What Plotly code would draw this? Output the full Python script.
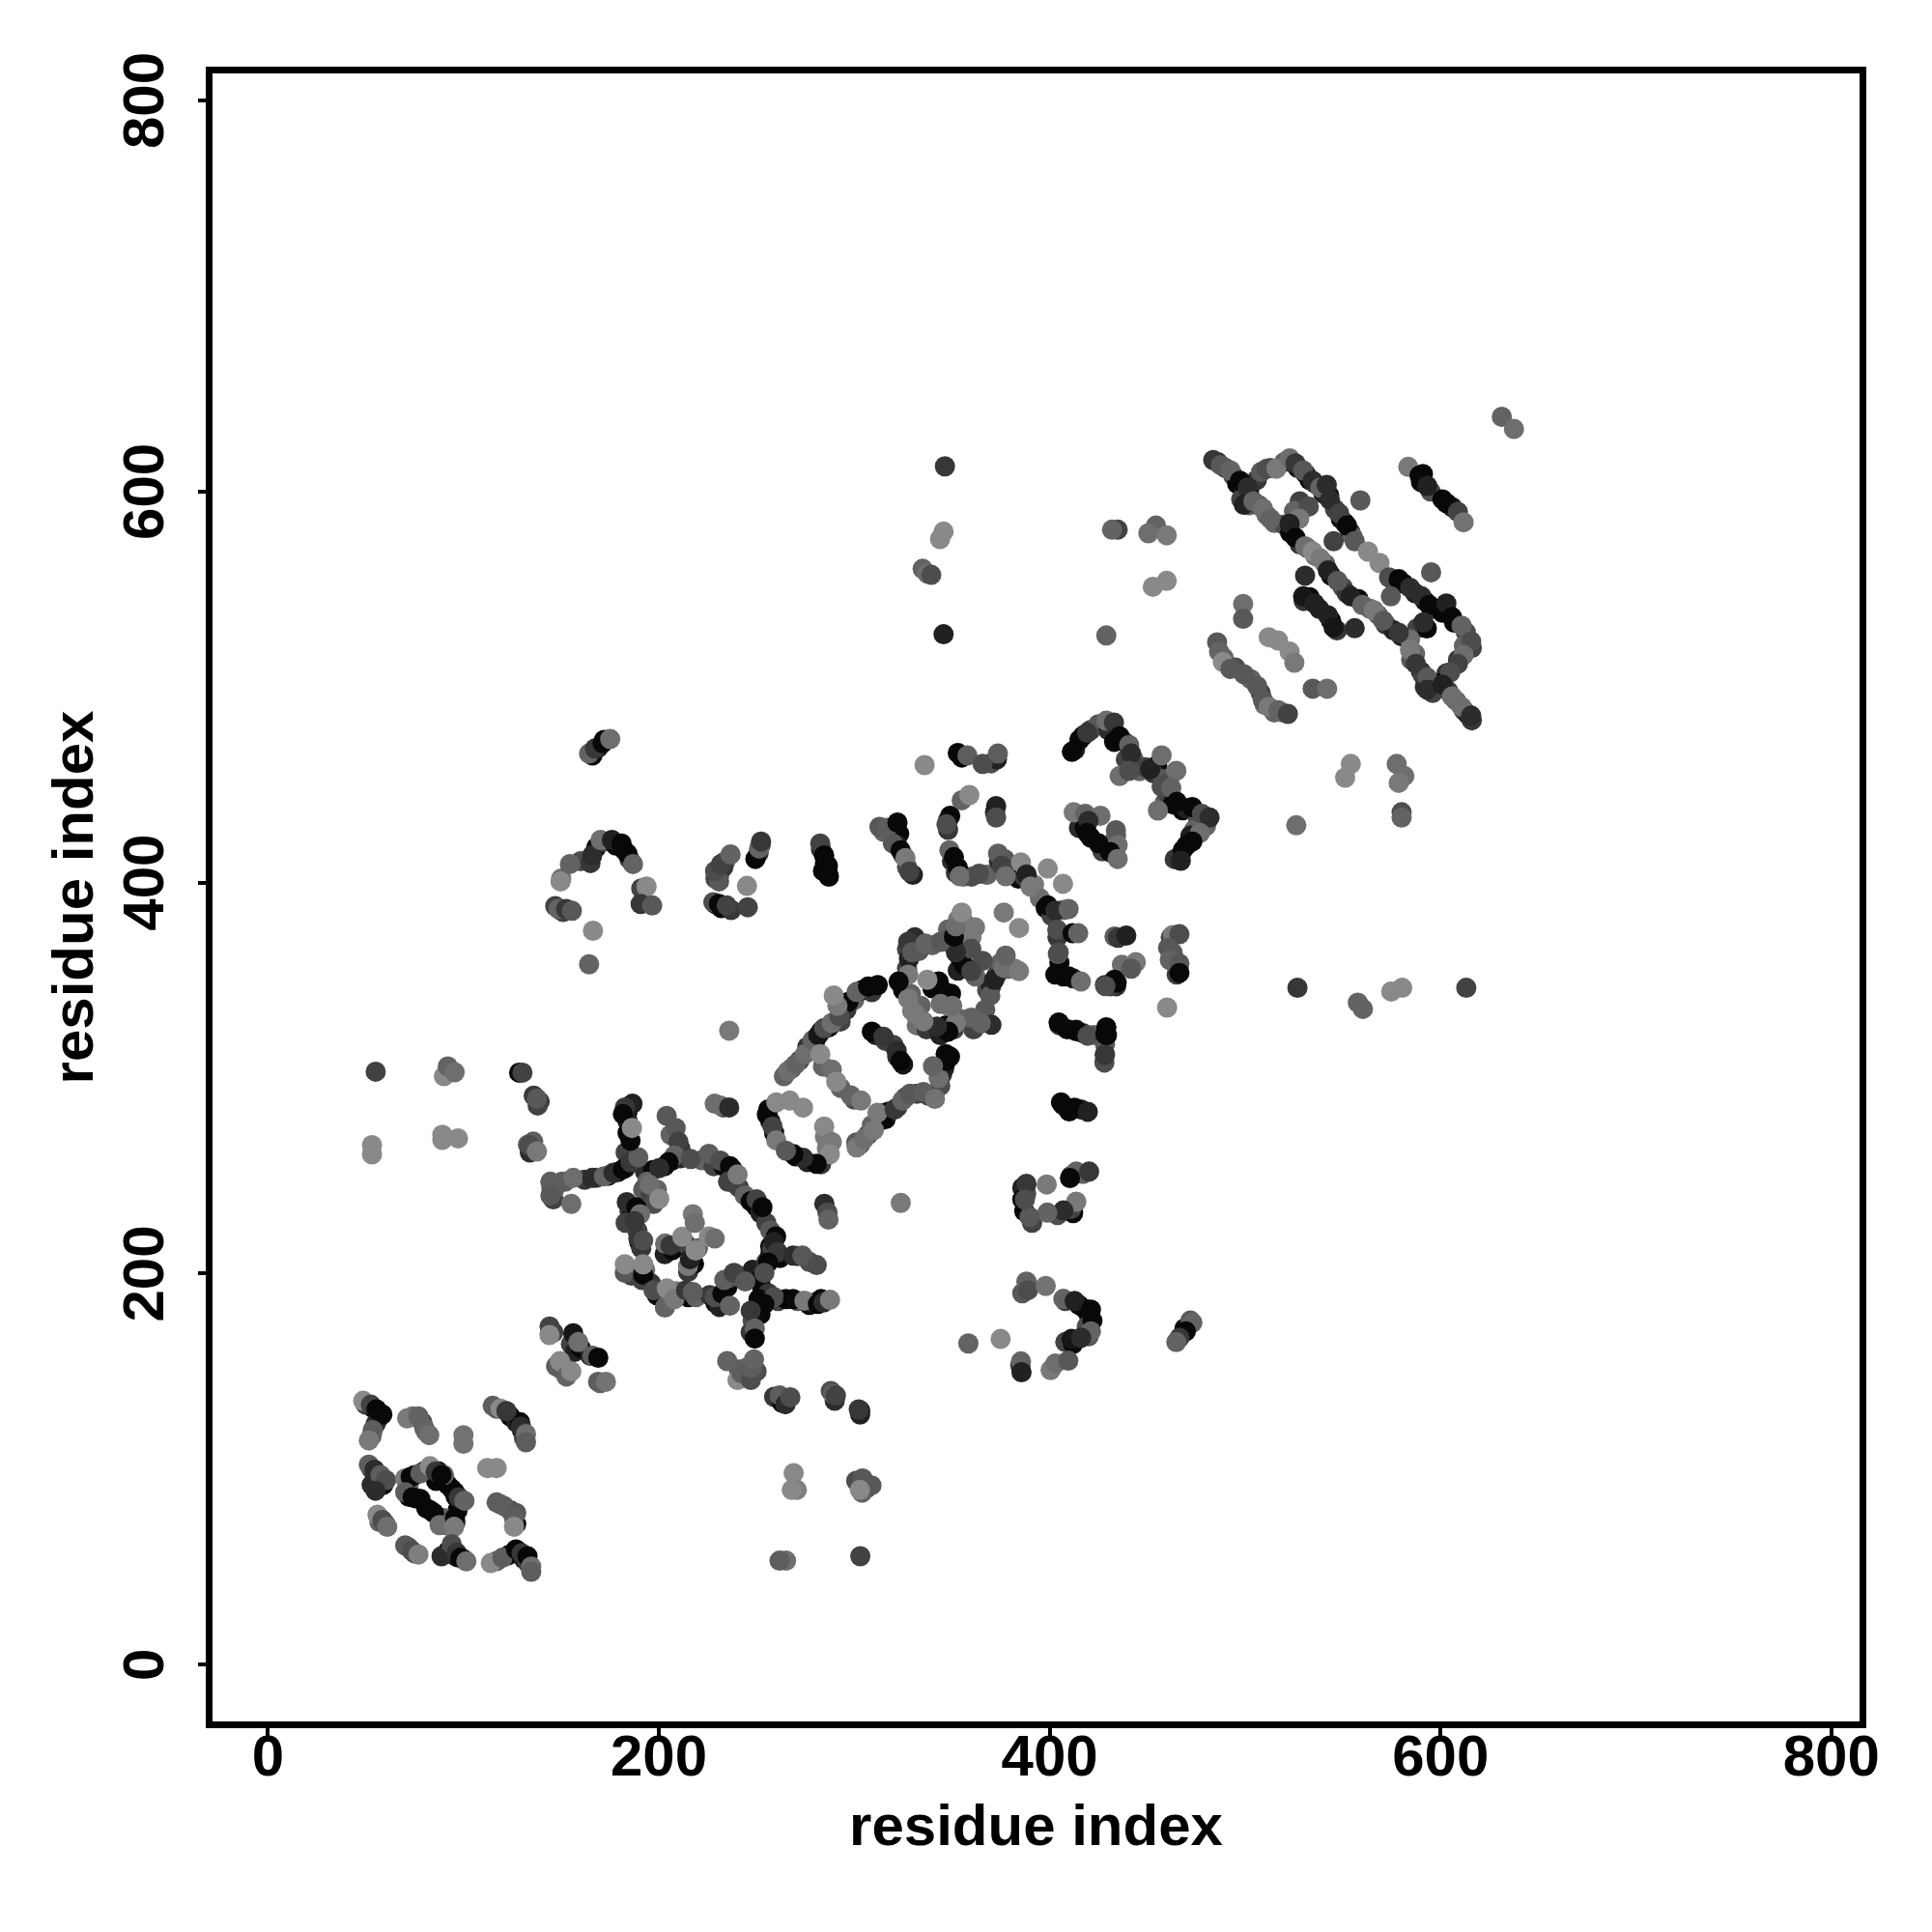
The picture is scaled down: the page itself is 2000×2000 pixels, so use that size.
import plotly.graph_objects as go

# Contact map: residue index pairs and grey shade per contact
i_low = [48.7,52.6,55.5,58.5,53.6,51.6,71.2,77,80,82.5,100,100,115,119,122,129.4,132,132,112.2,117,51.6,54.5,57.5,60.4,55,70.2,73,78,82.9,85.8,88.8,70.2,74,78,84.9,87.8,95.6,97.6,100.5,95.6,95.2,117,121,127,125.9,125.9,56,58.5,61,70.2,73.7,77,88.8,94,96.6,98.5,101.5,114,120,126.9,129.8,132.8,134.7,134.7,269,270.6,268,304.2,308.8,302.9,265.1,261.8,303.1,55.1,90,92,95.5,128.5,130.2,137.6,53.2,53.2,89.2,89.2,97.2,135.7,133.7,137.6]
j_low = [135,133,130.6,128,120,114.7,126,127,121,117.4,117.4,113,132.4,131,129.7,121.8,118,113.8,100.6,100.6,102.3,99.7,97,94.4,89,95.3,96,97.9,101.5,98.8,97,88.2,85.6,84.7,77.6,71.4,88.2,85.6,83.8,75,70.5,83,81,77.6,75,70.5,76.7,74,70.5,61,58.2,56.4,55.5,61.7,57.3,54.7,52.9,52,54.7,59,57,55.5,50.2,47.6,98,89.4,89.4,95.3,91.7,89.4,53.2,53.2,55.5,303.3,301,306,303,302.8,302.8,289.6,265.7,261,271,268.4,269.2,267.5,265.7,262.5]
g_low = [125,60,8,8,85,110,110,90,90,100,105,105,85,125,50,40,100,85,125,125,85,40,85,70,40,110,8,85,125,50,8,85,8,8,8,100,8,50,90,8,110,85,85,80,85,125,125,70,100,80,70,115,40,70,50,8,100,125,85,8,50,8,100,85,125,115,125,80,80,125,100,85,60,60,125,90,100,8,60,80,125,125,125,125,125,85,70,110]

i_ring = [144.5,150.4,146.4,144.5,156.2,155.2,166,171.9,176.8,181.6,185.5,189.5,186.5,182.6,181.6,185.5,186.2,204,208.6,210,208,205,200.2,216.3,225.6,231.5,236.4,235.4,240.3,228.6,231.5,236,195.3,197.3,200.2,183.6,188.5,190.4,187.5,189.5,192,203.2,206,212,217.4,218.4,225.6,228.6,214.9,215.9,218.8,182.6,182.6,191.4,192,192,197.3,203.1,204.1,208,213.9,217.4,228.6,232.5,236.4,233.5,238.4,244.2,258.9,260.8,255.9,254,268.7,273.5,280.8,258.9,254,252,247,249.1,249.1,268.7,274.5,281.4,284.3,287.6,284.7,286.3,286.8,323.8,144.1,144,156.2,158.8,166,169,147.4,149.4,152.7,155.2,168.9,172.9,235,240.3,242.3,247.1,247.1,248.7,261.8,264.8,267.3,289.2,290.6,302.3]
j_ring = [247,247,242.8,240,249,235.7,249,249.8,251.6,253.4,256.9,259.5,286.9,285,281.6,268,274.5,280.7,274.5,267.5,260.4,257,254,258.6,261.3,257.8,255,247,250.7,286.9,286,285,245.4,235.7,238.3,236.6,233.9,230.4,226.9,218,217,215.4,214.5,218.9,230.4,226,219,218,203.9,207.4,211.8,200.4,204.8,196.8,199.5,204.8,191.5,182.7,192.4,187,191.5,190.6,188,189.8,183.6,196.8,200.4,196,216.3,211,205.7,200.4,209.2,209.2,204.4,188,184.5,179.2,181,172,166.8,187,186.2,184.5,185.3,186.6,235.7,231.3,227.7,236.2,173,168.6,169.5,165,158,157,152.7,155.3,147.4,150,144.7,144.7,155.3,145.6,149.1,145.6,151.8,156.2,137.7,133.2,136.8,138.5,137.7,130.6]
g_ring = [85,85,85,80,100,100,40,90,40,8,50,85,30,50,8,8,125,80,80,60,90,8,40,70,85,70,8,60,110,100,100,40,100,70,125,40,8,100,50,50,70,100,50,125,110,100,125,100,110,30,125,80,125,60,8,125,70,90,125,110,50,85,70,8,90,85,60,80,30,50,8,70,40,80,70,70,8,8,50,90,8,8,110,8,40,110,40,70,90,110,60,125,20,100,85,8,85,125,90,125,85,105,90,125,85,70,85,90,85,40,70,85,60,50]

i_mid = [149.7,154.5,148.7,152.6,155.5,164.3,167.3,171.2,175.1,165.9,170.2,176,180.9,183.9,186.8,193.7,190.7,196.6,166.3,164.3,227.9,230.8,234.7,245.5,245.1,230.8,228.8,231.8,236.7,249.4,251.3,252.3,282.6,284.6,286.5,286.5,312.9,316.8,322.1,319.8,323.7,326.2,328.2,353,357.9,365.7,373.5,336,349.1,347.2,355,358.9,372.6,372.6,348.7,351,353,354,363.8,373.6,375.5,377.5,385.3,388.2,390.2,399,406.8,399,402.9,409.7,403.9,411.7,414.6,376.5,384.3,404.2,402.9,409.7,416,433.2,428.3,433.2,404.8,413.6,419.5,428.3,428.3,429.3,405.8,412.7,419.5,236]
j_mid = [400.6,409.5,386.5,386.5,385.6,466,468.6,471.3,473.4,413.9,421.8,421.8,420,414.8,409.5,398,389.1,388.3,375.4,358.2,390,389.1,388.3,387.4,398.3,400.6,405.9,409.5,414.4,412.1,417.4,421,420,413.9,408.6,405,428.5,428,430.7,420,416.5,412.6,405.6,466.3,465,460.7,466,460.1,434.2,429.8,442.1,444.8,439.1,433.3,416.5,413,407.7,403.3,404.5,414.8,408.6,403.3,410.3,404.2,398,407.2,399.4,388.3,385.6,386.5,375.9,374.1,374.1,384.7,376.8,363.5,353,352,349.4,372.4,347.6,350.3,328.2,324.7,322,317.6,312.3,322,287.6,284.9,282.8,324.3]
g_mid = [125,90,90,50,80,90,50,8,100,40,100,30,8,8,90,125,50,80,125,90,70,8,60,60,125,80,70,60,90,8,90,50,60,8,8,8,80,85,8,80,8,110,60,8,85,70,85,125,8,70,90,125,30,70,90,8,8,100,70,85,60,100,125,30,110,125,125,8,40,90,70,8,90,110,125,80,8,8,100,85,50,8,8,20,80,80,60,8,8,8,30,110]

i_chain = [266,269.9,274.8,278.7,281.6,284.6,288.5,292.4,291.4,289.5,301.2,307.1,312,282.6,288.5,290.8,298.3,303.5,255.3,260.1,258.2,260.1,267,273.8,284.6,288.5,287.5,280.7,273.8,268.9,265,301.2,305.1,310,315.9,311.9,320.7,324.6,328.6,335.4,341.3,309,314.9,321.7,323.7,343.2,347.2,346.8,340.3,370.2,364.7,359.9,352,348.1,342.3,335.4,369.6,371.6,376.5,384.3,377.5,343.2,349.5,337.4,344.2,350.1,327.6,327.6,322.7,329.6,354,359.9,365.7,359.9,352,327.6,329.6,336.4,344.2,351,352,355,361.8]
j_chain = [303.5,307,312.3,319.4,322,325.6,328.2,331.7,337,342.3,344.1,346.8,347.6,312.3,304.4,298.2,291.1,288.5,281.4,287.6,275.2,268.2,288.5,284.9,275.2,267.3,261.1,256.2,259.3,261.1,262.9,264.6,269,273.5,282.3,282.3,284,288.5,292,292.9,289.4,323.8,321.2,314,308.8,300,308.8,312.3,306.1,327.3,328.2,330.9,328.2,323.8,326.4,329.1,342.3,350.3,356.5,354.7,362.7,349.4,343.2,350.3,337.9,337,340.6,352.9,349.4,334.4,361.8,366.2,360,354.7,364.4,369.7,364.4,368.8,369.7,372.4,377.7,384.7,377.1]
g_chain = [100,90,100,90,20,70,100,70,110,125,90,8,8,125,100,125,90,110,8,125,60,110,125,125,125,110,125,8,40,8,80,110,100,110,8,110,50,90,80,85,105,8,50,40,8,100,8,8,90,40,90,90,110,8,40,110,80,30,100,110,90,8,8,125,100,100,110,110,8,110,8,70,70,60,40,50,80,90,80,8,100,125,110]

i_high = [631.4,637.6,483.7,487.6,492.5,497.4,501.3,499.4,504.3,509.1,513,508.2,511.1,516,522.8,525.8,529.7,534.6,538.5,541.8,543.4,548.2,552.2,556.1,545.3,532.6,527.7,522.8,525.8,530.7,534.6,538.5,542.4,547.3,559,562.9,568.8,573.7,578.6,584.4,590.3,594.2,603,605.9,610.8,615.7,611.8,608.9,605,574.6,595.2,591.3,584.4,584.4,530.7,529.7,535.5,542.4,545.3,556.1,554.1,560,565.9,570.7,578.6,587.4,593.2,593.2,601,605.9,610.8,615.7,583.5,589.3,593.2,603,608.9,611.8,434.8,431.9,454.4,450.5,459.9,452.8,459.9,429,499,499,485.7,486.7,488.6,492.5,499.4,506.2,509.1,512.1,517,521.9,512.1,516.9,522.8,525.2,534.6,542,554.1,551.2,577.6,581.5,578.6,580.1,580.1,526.2]
j_high = [638.2,632,616.1,613.5,610.8,605.5,602,593.2,595,591.4,586.1,610,611.7,611.7,617,614.4,610.8,605.5,602,603.4,595.8,588.8,582.6,574.6,574.6,592.3,586.1,583.5,576.4,572,569.3,565.8,559.6,554.3,595.5,569.3,563.5,556.1,555.2,550.8,546.4,542,542.8,535.8,531.4,523.4,516.4,511.9,507.5,546.4,558.7,533.1,524.3,519,557,546.4,542.8,536.7,530.5,530.1,546.4,542,539.3,534,527.8,511.9,504.9,498.7,501.3,495.2,489.9,485.4,612.6,608.2,602.9,594.1,589.6,584.3,580.5,580.5,582.6,578.7,577.6,551.3,554.3,526.4,542.5,534.9,522.9,518.1,512.8,509.3,506.6,500.5,493.4,489.9,488.1,486.3,525.5,523.8,518.1,512.5,499.2,499.2,460.7,453.7,460.7,454.5,451,436,433.3,429.3]
g_high = [90,100,50,80,90,8,40,30,90,100,90,80,70,110,100,50,80,40,90,40,40,60,8,80,60,70,110,30,8,100,125,110,30,80,80,125,125,70,8,40,40,8,30,8,90,70,100,60,70,80,80,40,100,110,40,20,30,30,20,40,30,90,110,80,50,50,80,40,30,100,100,40,110,8,30,8,60,105,60,90,90,100,110,125,125,90,100,80,80,90,125,80,80,80,80,110,90,60,125,125,125,110,80,100,125,125,100,100,110,70,90,100]

i_side = [411.4,415.3,419.2,429,432.9,435.8,440.7,441.7,435.8,440.7,451.5,457.3,464.8,457.3,462.2,455.4,465.1,473,477.9,481.8,476.9,473,468.1,467.1,412.3,418.2,426,419.8,419.2,425,433.9,434.8,430.9,434.8,435,439.2,463.1,466.4,460.6,461.5,466.4,466.4,460.1,444.1,441.7,434.3,428.5,404.6,404.6,413.6,419.4,428.2,428.5,413.6,410.4,420.2,388.1,398.5,413.6,407,398.8,389.7,387.3,388.1,388.9,398,407,412.8,421.1,421.9,421.1,411.2,416.1,374.9,358.4,385.3,385.6,400.5,402.9,409.5,473,469.7,466.4,464.8,526.8,557.7,560.3,574.8,580.4,613.2,346.4,345.7,343.9,335,337.5,339.4,345.7]
j_side = [466.9,473.1,476.6,482.8,481.9,474.8,470.4,466,454.5,457.2,458,465.1,457.2,449.1,448.4,436.9,441.3,438.6,435.1,433.3,425.4,421,416.5,411.2,436,435.1,434.2,431.6,425.4,420.1,426.8,419.2,415.7,412.1,371.8,372.9,373.2,373.6,366.6,360.4,358.6,353.8,336.1,359.3,356,348.9,347.1,364.3,328.4,324,321.7,311.8,322.4,252.2,248.9,252.2,246,245.6,236.8,232.3,231.2,229,237.9,195.9,191.5,193.7,187.1,186,181.6,176,170.5,166.6,167.2,166.6,164.3,155.1,149.6,150.7,154,155.5,174.9,170.5,167.2,165,346.2,338.6,335.4,344.3,346.2,346.2,612.9,579.5,575.7,560.5,558,557.4,527]
g_side = [8,8,50,100,50,8,90,40,100,70,30,100,100,70,90,100,8,8,70,40,100,8,8,30,110,90,100,40,8,8,80,100,8,100,50,30,110,70,80,90,80,8,125,110,80,8,70,70,8,8,70,50,8,90,8,50,50,110,110,40,90,80,70,90,70,105,90,30,8,8,90,20,40,125,90,90,30,110,100,80,90,8,50,90,50,90,90,125,125,60,50,125,125,90,100,70,30]

# Further contacts that thicken the bands (residue, residue, grey)
more_low = [(50,133,60),(54,131,20),(57,128,8),(56,125,60),(55,123,40),(53,117,90),(74,127,100),(79,124,70),(81,119,100),(117,131,80),(124,127,8),(127,124,30),(130,120,8),(131,116,60),(53,100,60),(56,96,8),(58,94,50),(59,92,8),(53,92,40),(72,92,90),(75,97,30),(80,99,8),(84,100,30),(87,99,8),(90,95,8),(92,92,8),(94,90,8),(96,86,8),(98,82,40),(97,79,8),(96,73,60),(72,86,8),(76,85,8),(81,80,8),(83,79,8),(90,75,90),(92,71,100),(119,82,90),(124,79,60),(127,72,8),(57,73,90),(60,72,60),(72,60,90),(75,57,60),(92,58,8),(95,56,60),(97,55,20),(100,54,40),(117,53,90),(123,56,30),(125,57,8),(128,58,8),(131,54,30),(133,52,60),(90,97,90),(129,124,8),(86,94,8)]
more_ring = [(168,249,60),(174,250,30),(179,252,8),(183,254,40),(187,258,8),(184,283,8),(184,278,30),(184,272,8),(183,262,60),(193,252,40),(197,253,8),(203,255,20),(207,258,8),(211,259,40),(194,247,90),(192,243,80),(196,241,60),(199,243,90),(185,232,50),(186,229,8),(183,226,60),(189,222,60),(190,216,8),(191,213,50),(184,203,90),(186,199,60),(193,202,100),(196,195,50),(199,189,8),(206,190,100),(205,186,90),(209,191,110),(215,188,8),(219,188,90),(226,189,50),(229,185,8),(231,183,30),(235,193,8),(237,198,60),(241,199,90),(248,202,30),(252,197,8),(253,192,8),(256,190,50),(251,187,8),(250,183,8),(248,176,70),(247,170,50),(255,206,50),(257,210,30),(257,214,8),(262,208,8),(271,209,60),(277,206,70),(261,186,60),(265,187,8),(271,186,80),(277,184,8),(279,185,30),(283,187,8),(222,258,90),(228,255,60),(233,255,8),(238,253,8),(239,246,80),(241,244,60),(244,240,90),(247,237,8),(250,234,8),(252,231,30),(255,226,60),(257,222,80),(260,219,8),(258,213,60),(250,238,60),(253,234,8),(206,271,90),(211,264,50),(233,285,70),(203,210,30),(207,212,8),(214,215,60),(220,213,90),(215,201,50),(218,205,8),(145,244,80),(148,246,60),(152,247,90),(146,238,60),(162,248,50),(133,266,90),(134,262,40),(139,288,50),(136,291,50),(138,286,60),(146,170,60),(155,164,60),(157,160,30),(160,162,8),(165,158,30),(170,144,90),(150,151,100),(152,152,60),(241,151,80),(245,147,60),(245,152,90),(250,150,70),(248,152,80),(259,137,50),(265,136,8),(263,134,8),(290,135,40),(303,130,8),(303,128,30),(288,140,70),(306,90,60),(301,94,70),(304,88,90)]
more_chain = [(264,301,90),(268,305,80),(272,309,70),(276,316,50),(280,319,8),(283,324,30),(287,326,8),(293,329,60),(296,335,50),(300,340,90),(304,345,8),(309,344,50),(297,339,8),(284,306,90),(293,295,90),(300,289,70),(256,284,8),(257,278,20),(259,272,8),(270,260,8),(276,257,30),(285,270,110),(286,264,110),(283,256,50),(301,267,80),(303,266,90),(307,271,70),(309,276,90),(313,278,50),(316,279,8),(318,283,40),(322,285,60),(326,290,60),(332,292,60),(338,291,60),(344,296,70),(345,302,50),(349,311,8),(346,305,30),(311,322,30),(316,319,60),(320,317,60),(322,311,40),(325,307,20),(332,327,100),(337,325,50),(344,322,30),(347,327,8),(351,325,60),(355,330,90),(361,325,60),(365,328,60),(367,335,80),(368,345,70),(370,347,30),(373,353,60),(375,359,90),(379,356,80),(382,356,110),(325,345,8),(327,356,60),(329,343,90),(334,337,90),(331,333,110),(348,337,110),(340,346,8),(345,345,8),(353,355,30),(356,358,8),(362,352,90),(356,368,8),(352,367,8),(350,374,50),(348,376,90),(353,381,110),(356,380,100),(358,374,90),(360,372,110),(331,372,40),(327,366,60),(328,361,30),(333,365,80),(340,368,90),(347,370,70)]
more_arc = [(160,411,70),(165,410,50),(168,418,8),(172,421,70),(178,419,8),(182,417,8),(185,412,50),(191,397,60),(192,390,90),(150,402,100),(147,388,60),(151,385,60),(166,465,8),(169,469,30),(172,473,8),(229,402,60),(231,404,90),(234,411,90),(233,408,50),(229,389,8),(232,387,8),(237,386,50),(251,415,40),(252,419,60),(283,417,40),(285,410,8),(284,406,8),(287,403,8),(315,426,90),(321,427,8),(323,425,8),(325,414,60),(322,419,30),(327,408,70),(330,404,30),(348,432,50),(348,427,50),(350,411,40),(352,405,50),(356,403,100),(360,403,70),(368,404,90),(370,461,70),(373,463,30),(355,464,8),(372,436,40),(374,411,40),(377,412,80),(381,406,8),(384,402,8),(387,403,50),(392,399,110),(395,392,100),(398,387,8),(401,383,60),(407,386,90),(404,372,50),(405,359,8),(407,352,8),(412,351,30),(405,327,50),(409,325,8),(417,323,40),(423,322,90),(429,326,8),(428,308,70),(407,286,30),(410,283,8),(416,284,30),(411,250,60),(417,251,90),(412,231,8),(411,233,60),(404,230,70),(387,232,8),(388,241,70),(386,244,30),(391,226,60),(386,238,8),(408,186,60),(415,184,8),(418,182,8),(420,179,8),(419,173,70),(420,168,80),(408,165,60),(412,164,8),(385,153,50),(386,190,80),(389,194,70),(469,172,8),(472,176,80),(462,372,60),(465,353,60),(463,364,80),(434,347,40),(431,347,60),(437,358,100),(433,349,8)]
more_helix = [(413,468,30),(417,475,8),(421,478,60),(425,481,80),(430,478,40),(433,472,8),(438,472,8),(439,463,60),(443,463,90),(446,457,90),(449,459,60),(455,460,8),(453,456,50),(458,453,80),(461,451,70),(459,441,80),(461,445,60),(463,440,8),(468,437,8),(470,438,30),(476,432,70),(480,429,90),(474,427,90),(472,424,30),(470,419,8),(466,413,8),(464,412,50),(415,428,40),(418,428,8),(421,423,8),(427,416,60),(434,424,90),(433,417,80)]
more_top = [(486,615,30),(490,612,60),(494,608,70),(496,604,8),(499,603,30),(502,600,8),(498,596,60),(502,593,90),(507,593,70),(511,588,90),(515,584,90),(506,606,50),(513,612,70),(520,615,90),(524,615,30),(527,612,20),(531,609,8),(533,606,8),(536,604,60),(540,599,30),(543,598,8),(546,591,60),(549,586,8),(551,584,20),(554,579,30),(555,577,90),(528,595,60),(525,590,90),(520,583,70),(523,579,8),(528,573,50),(532,571,80),(536,567,100),(541,563,90),(544,557,8),(550,551,70),(576,555,40),(581,553,8),(587,548,30),(592,544,20),(597,540,40),(601,538,8),(607,533,8),(613,528,70),(616,520,60),(612,521,90),(609,514,50),(603,507,50),(600,502,8),(604,498,60),(608,493,90),(612,488,60),(614,486,30),(616,483,50),(596,497,60),(590,508,40),(587,517,90),(588,530,60),(593,530,8),(572,532,50),(576,529,30),(564,540,90),(558,545,8),(552,548,50),(568,537,90),(580,526,30),(585,514,80),(591,506,60),(592,500,40),(591,609,8),(590,605,8),(595,600,70),(601,596,8),(606,592,30),(533,546,8),(538,540,30),(544,534,8),(547,529,50),(530,544,50),(489,515,90),(495,510,70),(503,504,90),(508,497,60),(510,491,100),(515,487,90),(519,487,100)]

tick_values = [0, 200, 400, 600, 800]
axis_label = "residue index"

more = more_low + more_ring + more_chain + more_arc + more_helix + more_top
residue_x = [p[0] for p in more]
residue_y = [p[1] for p in more]
shades = [p[2] for p in more]
for a, b, c in [(i_low, j_low, g_low), (i_ring, j_ring, g_ring), (i_mid, j_mid, g_mid),
                (i_chain, j_chain, g_chain), (i_high, j_high, g_high), (i_side, j_side, g_side)]:
    n = min(len(a), len(b), len(c))
    residue_x += a[:n]
    residue_y += b[:n]
    shades += c[:n]

grey = [min(int(s * 1.1), 140) for s in shades]
fig = go.Figure(go.Scatter(
    x=residue_x, y=residue_y, mode="markers", cliponaxis=True,
    marker=dict(size=21, color=[f"rgb({s},{s},{s})" for s in grey], line=dict(width=0)),
))
font = dict(family="Liberation Sans", size=60, color="black", weight="bold")
axis = dict(tickmode="array", tickvals=tick_values, ticks="outside", ticklen=8, tickwidth=4,
            tickcolor="black", showline=True, linewidth=7, linecolor="black", mirror=True,
            showgrid=False, zeroline=False, tickfont=font)
fig.update_layout(
    width=2000, height=2000, autosize=False, showlegend=False,
    plot_bgcolor="white", paper_bgcolor="white",
    margin=dict(l=212, r=83, t=68, b=226, pad=0),
    xaxis=dict(range=[-28.4, 814.45], ticklabelstandoff=-31,
               title=dict(text=axis_label, font=font, standoff=20), **axis),
    yaxis=dict(range=[-29.0, 813.85], tickangle=-90, ticklabelstandoff=12, ticklabelshift=9,
               title=dict(text=axis_label, font=font, standoff=2), **axis),
)
fig.write_html("out.html")
